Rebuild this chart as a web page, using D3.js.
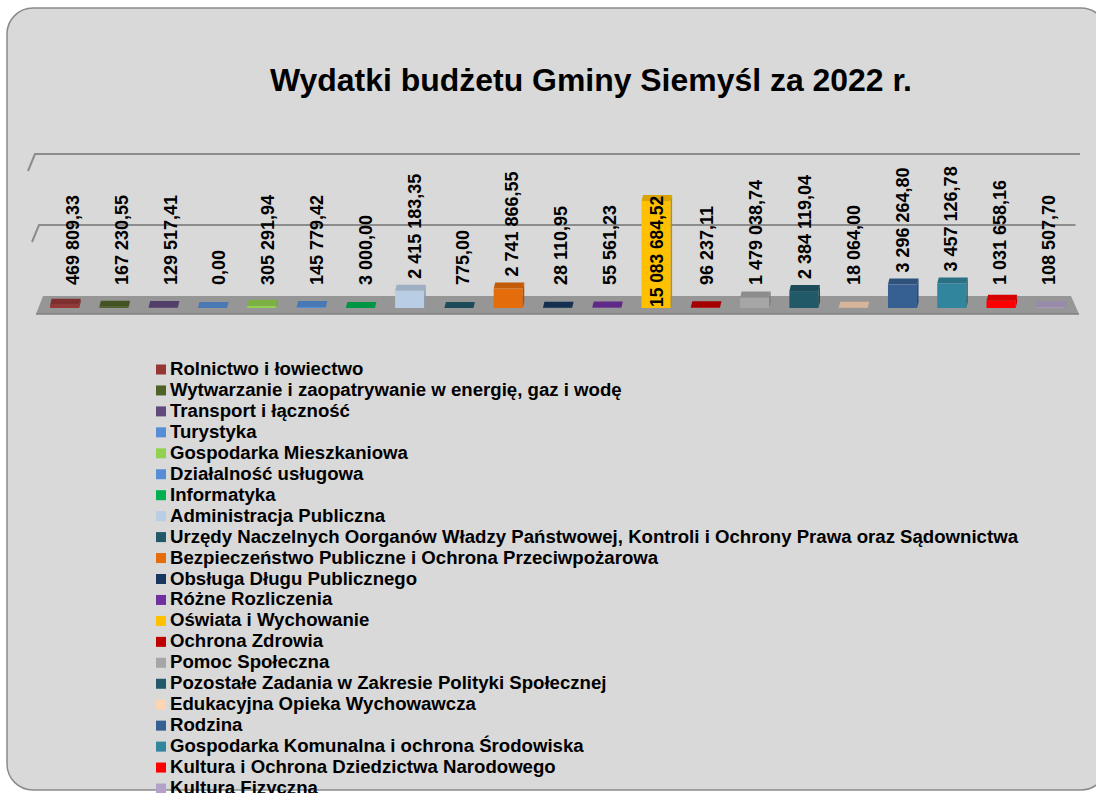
<!DOCTYPE html>
<html>
<head>
<meta charset="utf-8">
<script src="https://cdn.jsdelivr.net/npm/d3@7"></script>
<style>
  html, body { margin: 0; padding: 0; background: #ffffff; }
  svg { display: block; }
  text { font-family: "Liberation Sans", Arial, sans-serif; font-weight: bold; }
</style>
</head>
<body>
<svg id="chart" width="1096" height="793"></svg>
<script>
const title = "Wydatki budżetu Gminy Siemyśl za 2022 r.";

const categories = [
  "Rolnictwo i łowiectwo",
  "Wytwarzanie i zaopatrywanie w energię, gaz i wodę",
  "Transport i łączność",
  "Turystyka",
  "Gospodarka Mieszkaniowa",
  "Działalność usługowa",
  "Informatyka",
  "Administracja Publiczna",
  "Urzędy Naczelnych Oorganów Władzy Państwowej, Kontroli i Ochrony Prawa oraz Sądownictwa",
  "Bezpieczeństwo Publiczne i Ochrona Przeciwpożarowa",
  "Obsługa Długu Publicznego",
  "Różne Rozliczenia",
  "Oświata i Wychowanie",
  "Ochrona Zdrowia",
  "Pomoc Społeczna",
  "Pozostałe Zadania w Zakresie Polityki Społecznej",
  "Edukacyjna Opieka Wychowawcza",
  "Rodzina",
  "Gospodarka Komunalna i ochrona Środowiska",
  "Kultura i Ochrona Dziedzictwa Narodowego",
  "Kultura Fizyczna"
];

const values = [
  469809.33, 167230.55, 129517.41, 0.00, 305291.94, 145779.42, 3000.00,
  2415183.35, 775.00, 2741866.55, 28110.95, 55561.23, 15083684.52, 96237.11,
  1479038.74, 2384119.04, 18064.00, 3296264.80, 3457126.78, 1031658.16, 108507.70
];

const palette = [
  "#953735", "#4f6228", "#604a7b", "#558ed5", "#92d050", "#558ed5", "#00b050",
  "#b9cde5", "#215968", "#e46c0a", "#17375e", "#7030a0", "#ffc000", "#c00000",
  "#a6a6a6", "#215968", "#fcd5b5", "#376092", "#31859c", "#ff0000", "#b3a2c7"
];

const yDomainMax = 20000000;

// ---------- setup ----------
const svg = d3.select("#chart");
const W = 1096, H = 793;

const locale = d3.formatLocale({ decimal: ",", thousands: " ", grouping: [3], currency: ["", ""] });
const fmt = locale.format(",.2f");

// card background
svg.append("rect")
  .attr("x", 7).attr("y", 8)
  .attr("width", 1100).attr("height", 782)
  .attr("rx", 26).attr("ry", 26)
  .attr("fill", "#d9d9d9")
  .attr("stroke", "#8a8a8a")
  .attr("stroke-width", 1.5);

// title
svg.append("text")
  .attr("x", 591).attr("y", 91)
  .attr("text-anchor", "middle")
  .attr("font-size", 31)
  .attr("textLength", 642)
  .attr("lengthAdjust", "spacingAndGlyphs")
  .attr("fill", "#000")
  .text(title);

// scales
const x = d3.scaleBand()
  .domain(categories)
  .range([40, 1075])
  .paddingInner(0.41)
  .paddingOuter(0.205);

const xLabel = d3.scaleBand()
  .domain(categories)
  .range([48, 1073])
  .padding(0);

const y = d3.scaleLinear()
  .domain([0, yDomainMax])
  .range([308, 166]);

const backShift = 12;     // back wall offset (vertical)
const plotTop = y(yDomainMax) - backShift;

// ---------- walls / gridlines ----------
const grid = svg.append("g");
const ticks = y.ticks(2).filter(t => t > 0);
ticks.forEach(t => {
  const f = t / yDomainMax;
  const yb = y(t) - backShift;
  const xBackL = 43 - f * 8;
  const xFrontL = 36 - f * 8;
  const xBackR = 1071 + f * 9;
  grid.append("path")
    .attr("d", `M${xFrontL},${yb + 17}L${xBackL},${yb}L${xBackR},${yb}`)
    .attr("fill", "none")
    .attr("stroke", "#8c8c8c")
    .attr("stroke-width", 2);
});

// floor
const y0 = y(0);
svg.append("path")
  .attr("d", `M36,${y0 + 6}L43,${y0 - backShift}L1071,${y0 - backShift}L1079,${y0 + 6}Z`)
  .attr("fill", "#969696");
svg.append("path")
  .attr("d", `M36,${y0 + 6}L1079,${y0 + 6}`)
  .attr("stroke", "#7f7f7f")
  .attr("stroke-width", 1.5);

// ---------- bars ----------
const topDepth = 6;
const data = categories.map((c, i) => ({ c, v: values[i], col: palette[i] }));

const bars = svg.append("g");
bars.selectAll("g.bar")
  .data(data)
  .join("g")
  .attr("class", "bar")
  .each(function (d) {
    const g = d3.select(this);
    const x0 = x(d.c), x1 = x(d.c) + x.bandwidth();
    const yv = y(d.v);
    g.append("rect")
      .attr("x", x0).attr("y", yv)
      .attr("width", x.bandwidth())
      .attr("height", Math.max(0, y0 - yv))
      .attr("fill", d.col);
    g.append("path")
      .attr("d", `M${x0},${yv}L${x0 + 1.5},${yv - topDepth}L${x1 + 1.5},${yv - topDepth}L${x1},${yv}Z`)
      .attr("fill", d3.color(d.col).darker(0.45));
    g.append("path")
      .attr("d", `M${x1},${yv}L${x1 + 1.5},${yv - topDepth}L${x1 + 1.5},${y0 - topDepth}L${x1},${y0}Z`)
      .attr("fill", d3.color(d.col).darker(0.8));
  });

// ---------- value labels ----------
const labels = svg.append("g");
data.forEach(d => {
  const cx = xLabel(d.c) + xLabel.bandwidth() / 2;
  const t = labels.append("text")
    .attr("font-size", 18)
    .attr("fill", "#000")
    .text(fmt(d.v));
  const len = t.node().getComputedTextLength();
  let yb = Math.min(y(d.v) - 12, 285);
  if (yb - len < plotTop) {
    // does not fit above: place inside the bar
    const xc = x(d.c) + x.bandwidth() / 2;
    yb = y0 - 1;
    const avail = y0 - (y(d.v) - topDepth) - 2;
    t.attr("textLength", Math.min(len, avail)).attr("lengthAdjust", "spacingAndGlyphs");
    t.attr("transform", `translate(${xc + 7},${yb}) rotate(-90)`);
  } else {
    t.attr("transform", `translate(${cx + 6.5},${yb}) rotate(-90)`);
  }
});

// ---------- legend ----------
const legend = svg.append("g");
const rowH = 20.95;
const rows = legend.selectAll("g.item")
  .data(data)
  .join("g")
  .attr("class", "item")
  .attr("transform", (d, i) => `translate(156,${375 + i * rowH})`);
rows.append("rect")
  .attr("x", 0).attr("y", -10.5)
  .attr("width", 10).attr("height", 10)
  .attr("fill", d => d.col);
const legTexts = rows.append("text")
  .attr("x", 14).attr("y", 0)
  .attr("font-size", 18)
  .attr("fill", "#000")
  .text(d => d.c);
let maxLen = 0;
legTexts.each(function () { maxLen = Math.max(maxLen, this.getComputedTextLength()); });
const ratio = 848 / maxLen;
legTexts.each(function () {
  const l = this.getComputedTextLength();
  d3.select(this).attr("textLength", l * ratio).attr("lengthAdjust", "spacingAndGlyphs");
});
</script>
</body>
</html>
